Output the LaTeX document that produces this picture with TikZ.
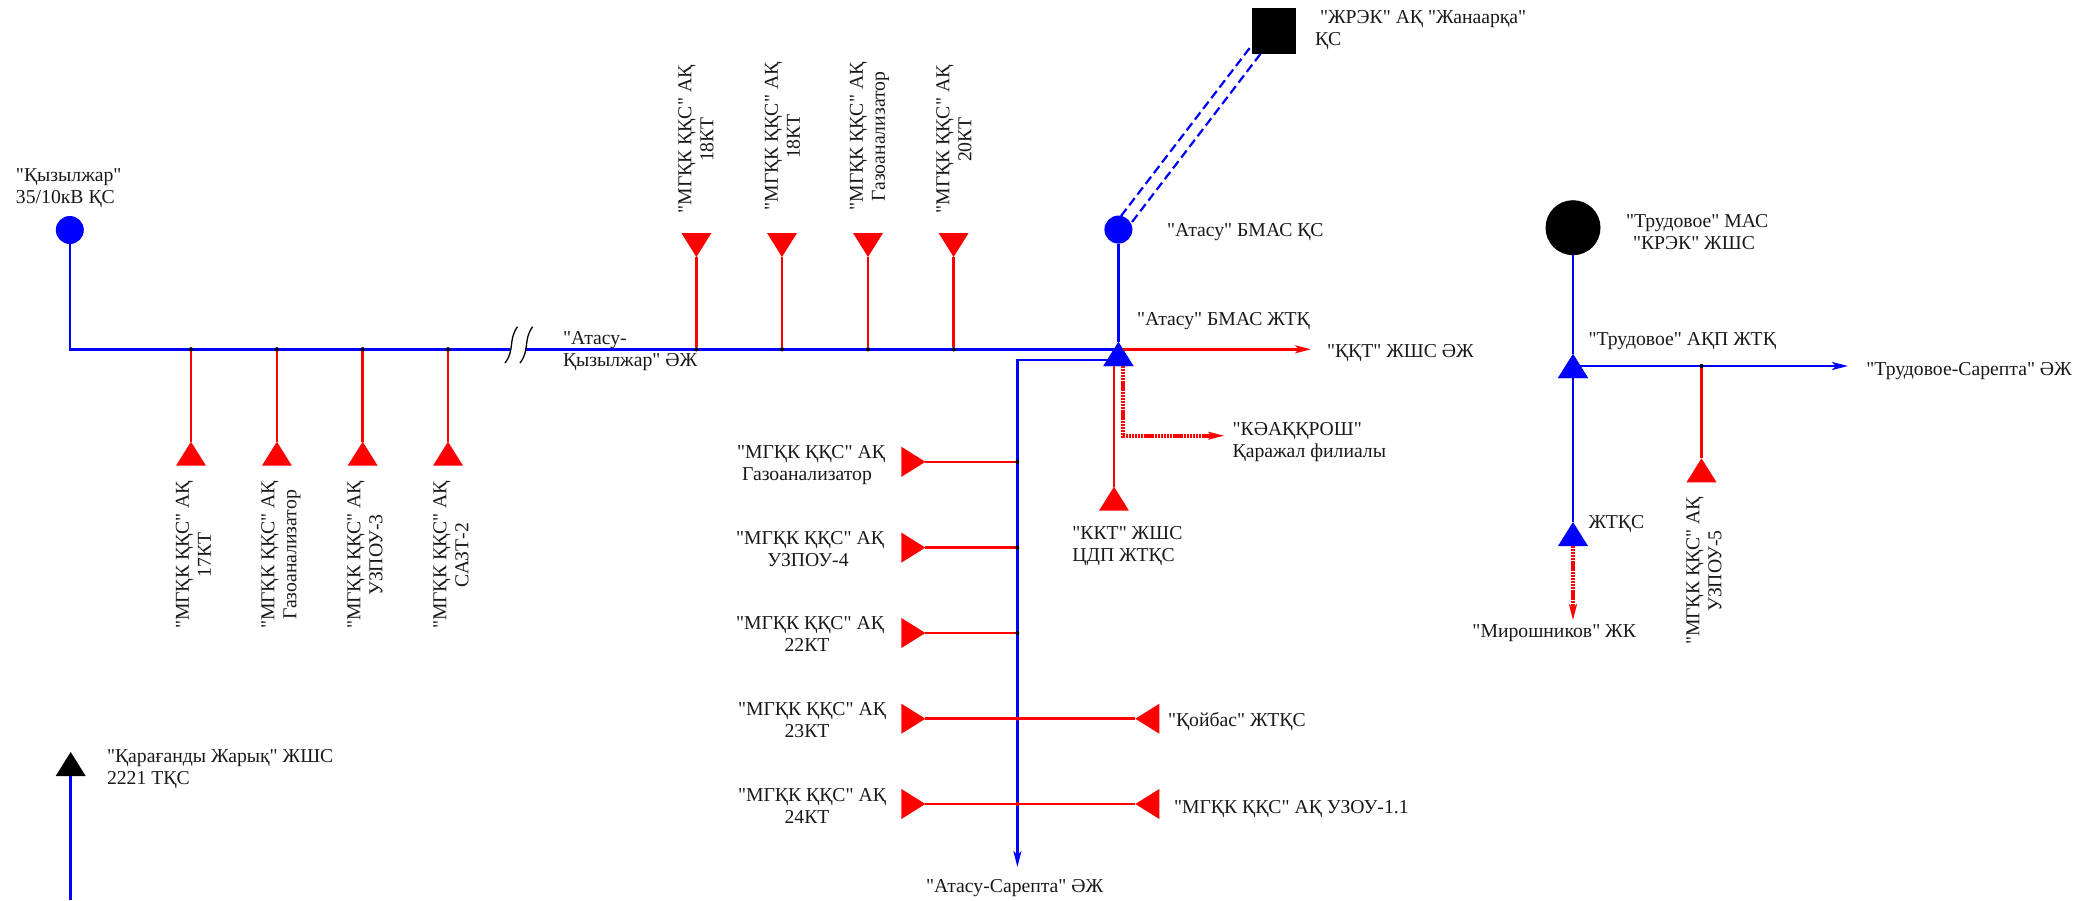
\documentclass[tikz,border=0pt]{standalone}
\usepackage{fontspec}
\newfontfamily\lib{Liberation Serif}
\usetikzlibrary{arrows.meta,shapes.geometric}
\newcommand\ls{\rule{0pt}{16pt}\rule[-3.5pt]{0pt}{3.5pt}}
\tikzset{
 x=1pt,y=-1pt,
 lab/.style={inner sep=0pt,outer sep=0pt,font=\lib\fontsize{19.7}{22}\selectfont,text=black!90},
 lw/.style={lab,anchor=west,align=left,yshift=-1.5pt},
 lc/.style={lab,anchor=center,align=center,yshift=-1.5pt},
 lr/.style={lab,anchor=center,align=center,rotate=90},
 blueline/.style={draw=blue,line width=2.5pt},
 redline/.style={draw=red,line width=2.5pt},
 reddot/.style={draw=red,line width=4pt,dash pattern=on 2.2pt off 0.7pt},
 bluedash/.style={draw=blue,line width=2.2pt,dash pattern=on 9pt off 4.5pt},
 head/.style={-{Stealth[length=16pt,width=8pt,inset=4pt]}},
 tri/.style={shape=isosceles triangle,isosceles triangle apex angle=64,isosceles triangle stretches,minimum width=30pt,minimum height=24pt,inner sep=0pt,outer sep=0pt,draw=none,anchor=apex},
 tup/.style={tri,shape border rotate=90},
 tdown/.style={tri,shape border rotate=-90},
 tright/.style={tri,shape border rotate=0},
 tleft/.style={tri,shape border rotate=180},
 subst/.style={shape=circle,minimum size=28pt,inner sep=0pt,outer sep=0pt,fill=blue},
 jn/.style={shape=circle,minimum size=4pt,inner sep=0pt,outer sep=0pt,fill=black},
 jnr/.style={shape=circle,minimum size=4pt,inner sep=0pt,outer sep=0pt,fill=red},
}
\begin{document}
\begin{tikzpicture}
\useasboundingbox (0,0) rectangle (2098,900);
% stations
\node[subst] (kyz) at (69.8,230) {};
\node[subst] (atasu) at (1118.4,229.6) {};
\node[shape=rectangle,minimum width=44.4pt,minimum height=45.2pt,inner sep=0pt,outer sep=0pt,fill=black] (zhrek) at (1274.2,31) {};
\node[shape=circle,minimum size=55pt,inner sep=0pt,outer sep=0pt,fill=black] (trud) at (1573,227.7) {};
% coordinates
\coordinate (corner) at (69.8,349.3);
\coordinate (brkL) at (510,349.3);
\coordinate (brkR) at (525,349.3);
\foreach \n/\x in {j1/191,j2/276.9,j3/362.7,j4/448,j5/696.4,j6/782,j7/868,j8/953.6}
  \node[jn] (\n) at (\x,349.3) {};
% main triangle
\node[tup,fill=blue] (hub) at (1118.4,342) {};
\coordinate (hubE) at (1118.4,349.3);
\coordinate (hubW) at (1118.4,360);
\coordinate (hubS1) at (1114,366);
\coordinate (hubS2) at (1123.3,366);
% bus
\draw[blueline] (kyz) -- (corner) -- (brkL);
\draw[blueline] (brkR) -- (hubE);
\draw[blueline] (atasu) -- (hub.apex);
\draw[black,line width=1.3pt] (517.5,326.7) .. controls (508,340) and (515,350) .. (505,363);
\draw[black,line width=1.3pt] (532.6,326.7) .. controls (523,340) and (530,350) .. (520,363);
% bottom taps
\foreach \n/\x in {j1/191,j2/276.9,j3/362.7,j4/448}{
  \node[tup,fill=red] (t\n) at (\x,441.7) {};
  \draw[redline] (\n) -- (t\n.apex);
}
% top taps
\foreach \n/\x in {j5/696.4,j6/782,j7/868,j8/953.6}{
  \node[tdown,fill=red] (t\n) at (\x,257) {};
  \draw[redline] (\n) -- (t\n.apex);
}
\foreach \n in {j1,j2,j3,j4,j5,j6,j7,j8} \node[jn] at (\n) {};
% dashed link
\coordinate (d1a) at (1121,216);
\coordinate (d1b) at (1252,45);
\coordinate (d2a) at (1132,222);
\coordinate (d2b) at (1260.7,53.6);
\draw[bluedash] (d1a) -- (d1b);
\draw[bluedash] (d2a) -- (d2b);
% hub outputs
\coordinate (kkt) at (1311,349.3);
\draw[redline,head] (hubE) -- (kkt);
\coordinate (vcorner) at (1017.4,360);
\coordinate (vend) at (1017.4,867);
\draw[blueline,head] (hubW) -- (vcorner) -- (vend);
\node[tup,fill=red] (kktT) at (1114,486.7) {};
\draw[redline] (hubS1) -- (kktT.apex);
\coordinate (kcorner) at (1123.3,435.7);
\coordinate (kend) at (1224,435.7);
\draw[reddot] (hubS2) -- (kcorner) -- (1210,435.7);
\draw[redline,head] (1208,435.7) -- (kend);
\node[tup,fill=blue] at (hub.apex) {};
% left and right taps on vertical
\foreach \n/\y in {r1/461.8,r2/547.6,r3/633,r4/718.7,r5/804}{
  \node[tright,fill=red] (t\n) at (925.4,\y) {};
  \coordinate (\n) at (1017.4,\y);
  \draw[redline] (t\n.apex) -- (\n);
}
\node[tleft,fill=red] (koib) at (1135.3,718.7) {};
\node[tleft,fill=red] (uzou) at (1135.3,804) {};
\draw[redline] (r4) -- (koib.apex);
\draw[redline] (r5) -- (uzou.apex);
\node[jn] at (r1) {};
\node[jn] at (r2) {};
\node[jn] at (r3) {};
\node[jnr] at (r4) {};
\node[jnr] at (r5) {};
% right-hand scheme
\node[tup,fill=blue] (ta) at (1573,354) {};
\node[tup,fill=blue] (tb) at (1573,522) {};
\draw[blueline] (trud) -- (ta.apex);
\coordinate (taS) at (1573,378);
\draw[blueline] (taS) -- (tb.apex);
\coordinate (taE) at (1573,366);
\coordinate (tend) at (1848,366);
\node[jn] (j9) at (1701.5,366) {};
\draw[blueline,head] (taE) -- (tend);
\node[tup,fill=red] (tj9) at (1701.5,458.3) {};
\draw[redline] (j9) -- (tj9.apex);
\node[jn] at (j9) {};
\node[tup,fill=blue] at (1573,354) {};
\coordinate (tbS) at (1573,546);
\coordinate (tbE) at (1573,620);
\draw[reddot] (tbS) -- (1573,607);
\draw[redline,head] (1573,605) -- (tbE);
% lower-left
\node[tup,fill=black] (kzh) at (70.7,752) {};
\coordinate (kzhEnd) at (70.7,900);
\draw[blueline] (kzh.south) -- (kzhEnd);
% labels
\node[lw] (lKyz) at (16,185) {\ls"Қызылжар"\\\ls35/10кВ ҚС};
\node[lw] (lKZ) at (563,348.5) {\ls"Атасу-\\\ls Қызылжар" ӘЖ};
\node[lr] (lb1) at (193.5,555) {\ls"МГҚК ҚҚС" АҚ\\\ls17КТ};
\node[lr] (lb2) at (279.5,555) {\ls"МГҚК ҚҚС" АҚ\\\ls Газоанализатор};
\node[lr] (lb3) at (365,555) {\ls"МГҚК ҚҚС" АҚ\\\ls УЗПОУ-3};
\node[lr] (lb4) at (451,555) {\ls"МГҚК ҚҚС" АҚ\\\ls САЗТ-2};
\node[lr] (lt1) at (696.2,139.5) {\ls"МГҚК ҚҚС" АҚ\\\ls18КТ};
\node[lr] (lt2) at (782.5,136.5) {\ls"МГҚК ҚҚС" АҚ\\\ls18КТ};
\node[lr] (lt3) at (868,136.5) {\ls"МГҚК ҚҚС" АҚ\\\ls Газоанализатор};
\node[lr] (lt4) at (954,139.5) {\ls"МГҚК ҚҚС" АҚ\\\ls20КТ};
\node[lr] (lt5) at (1704,571) {\ls"МГҚК ҚҚС" АҚ\\\ls УЗПОУ-5};
\node[lw] (lZh) at (1315,27) {\ls\hspace*{5pt}"ЖРЭК" АҚ "Жанаарқа"\\\ls ҚС};
\node[lw] (lAt) at (1167,229.6) {\ls"Атасу" БМАС ҚС};
\node[lw] (lAtZ) at (1137,318) {\ls"Атасу" БМАС ЖТҚ};
\node[lw] (lKKT) at (1327,350) {\ls"ҚҚТ" ЖШС ӘЖ};
\node[lw] (lKo) at (1232.6,438.7) {\ls"КӘАҚҚРОШ"\\\ls Қаражал филиалы};
\node[lw] (lKK) at (1072.4,542.7) {\ls"ККТ" ЖШС\\\ls ЦДП ЖТҚС};
\node[lc] (ll1) at (811,462) {\ls"МГҚК ҚҚС" АҚ\\\ls Газоанализатор\hspace*{8pt}};
\node[lc] (ll2) at (810,547.6) {\ls"МГҚК ҚҚС" АҚ\\\ls УЗПОУ-4\hspace*{4pt}};
\node[lc] (ll3) at (810,633) {\ls"МГҚК ҚҚС" АҚ\\\ls22КТ\hspace*{6pt}};
\node[lc] (ll4) at (812,718.5) {\ls"МГҚК ҚҚС" АҚ\\\ls23КТ\hspace*{10pt}};
\node[lc] (ll5) at (812,804.3) {\ls"МГҚК ҚҚС" АҚ\\\ls24КТ\hspace*{10pt}};
\node[lw] (lKoi) at (1168,719) {\ls"Қойбас" ЖТҚС};
\node[lw] (lUz) at (1174,805.7) {\ls"МГҚК ҚҚС" АҚ УЗОУ-1.1};
\node[lc] (lAS) at (1014.7,885) {\ls"Атасу-Сарепта" ӘЖ};
\node[lw] (lTr) at (1626,230.5) {\ls"Трудовое" МАС\\\ls\hspace*{7pt}"КРЭК" ЖШС};
\node[lw] (lTrZ) at (1588.5,338) {\ls"Трудовое" АҚП ЖТҚ};
\node[lw] (lTS) at (1866.4,367.7) {\ls"Трудовое-Сарепта" ӘЖ};
\node[lw] (lZhT) at (1588.5,521) {\ls ЖТҚС};
\node[lab,anchor=east,yshift=-1.5pt] (lMir) at (1636,630) {\ls"Мирошников" ЖК};
\node[lw] (lKar) at (107,766) {\ls"Қарағанды Жарық" ЖШС\\\ls2221 ТҚС};
\end{tikzpicture}
\end{document}
